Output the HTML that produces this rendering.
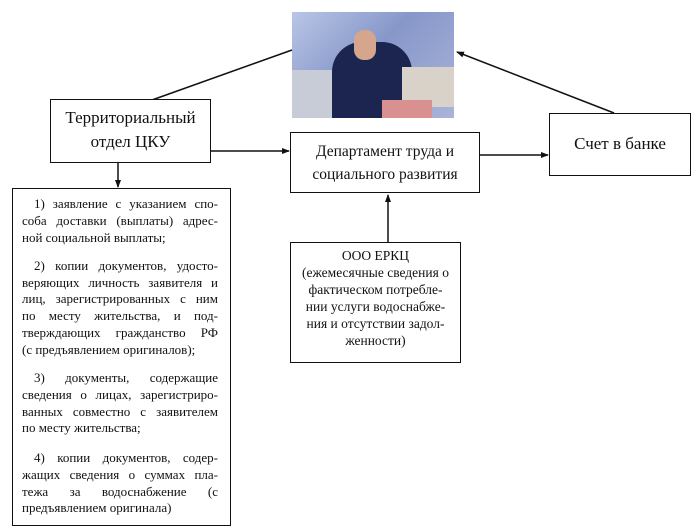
<!DOCTYPE html>
<html><head><meta charset="utf-8"><style>
body{margin:0;width:700px;height:529px;background:#fff;position:relative;overflow:hidden;font-family:"Liberation Serif",serif;color:#111}
.b{position:absolute;border:1.5px solid #111;box-sizing:border-box;background:#fff}
.c{text-align:center}
.l{position:absolute;left:22px;width:196px;font-size:13px;line-height:17px;white-space:nowrap}
.j{text-align:justify;text-align-last:justify}
</style></head><body>
<div style="position:absolute;left:292px;top:12px;width:162px;height:106px;background:linear-gradient(135deg,#b9c6e6,#8797c9 45%,#a9b4d8);overflow:hidden">
<div style="position:absolute;left:40px;top:30px;width:80px;height:76px;background:#1c2450;border-radius:30px 30px 0 0"></div>
<div style="position:absolute;left:62px;top:18px;width:22px;height:30px;background:#d6a58e;border-radius:10px"></div>
<div style="position:absolute;left:0;top:58px;width:40px;height:48px;background:#c8ccd6"></div>
<div style="position:absolute;left:110px;top:55px;width:52px;height:40px;background:#d8d2c8"></div>
<div style="position:absolute;left:90px;top:88px;width:50px;height:18px;background:#d89090"></div>
</div>
<svg width="700" height="529" style="position:absolute;left:0;top:0">
<defs><marker id="a" markerWidth="8" markerHeight="8" refX="7" refY="4" orient="auto" markerUnits="userSpaceOnUse"><path d="M0,1 L8,4 L0,7z" fill="#111"/></marker></defs>
<g stroke="#111" stroke-width="1.5" fill="none">
<line x1="152" y1="100" x2="292" y2="50"/>
<line x1="210" y1="151" x2="289" y2="151" marker-end="url(#a)"/>
<line x1="118" y1="163" x2="118" y2="187" marker-end="url(#a)"/>
<line x1="480" y1="155" x2="548" y2="155" marker-end="url(#a)"/>
<line x1="614" y1="113" x2="457" y2="52" marker-end="url(#a)"/>
<line x1="388" y1="242" x2="388" y2="195" marker-end="url(#a)"/>
</g></svg>
<div class="b c" style="left:50px;top:99px;width:161px;height:64px;font-size:17px;line-height:24px;padding-top:6px">Территориальный<br>отдел ЦКУ</div>
<div class="b c" style="left:290px;top:132px;width:190px;height:61px;font-size:15.5px;line-height:23px;padding-top:7px">Департамент труда и<br>социального развития</div>
<div class="b c" style="left:549px;top:113px;width:142px;height:63px;font-size:17px;line-height:60px">Счет в банке</div>
<div class="b c" style="left:290px;top:242px;width:171px;height:121px;font-size:13.5px;line-height:17px;padding-top:4px">ООО ЕРКЦ<br>(ежемесячные сведения о<br>фактическом потребле-<br>нии услуги водоснабже-<br>ния и отсутствии задол-<br>женности)</div>
<div class="b" style="left:12px;top:188px;width:219px;height:338px"></div>
<div class="l j" style="top:195px;padding-left:12px;width:184px">1) заявление с указанием спо-</div>
<div class="l j" style="top:212px">соба доставки (выплаты) адрес-</div>
<div class="l" style="top:229px">ной социальной выплаты;</div>
<div class="l j" style="top:257px;padding-left:12px;width:184px">2) копии документов, удосто-</div>
<div class="l j" style="top:274px">веряющих личность заявителя и</div>
<div class="l j" style="top:290px">лиц, зарегистрированных с ним</div>
<div class="l j" style="top:307px">по месту жительства, и под-</div>
<div class="l j" style="top:324px">тверждающих гражданство РФ</div>
<div class="l" style="top:341px">(с предъявлением оригиналов);</div>
<div class="l j" style="top:369px;padding-left:12px;width:184px">3) документы, содержащие</div>
<div class="l j" style="top:386px">сведения о лицах, зарегистриро-</div>
<div class="l j" style="top:403px">ванных совместно с заявителем</div>
<div class="l" style="top:419px">по месту жительства;</div>
<div class="l j" style="top:449px;padding-left:12px;width:184px">4) копии документов, содер-</div>
<div class="l j" style="top:466px">жащих сведения о суммах пла-</div>
<div class="l j" style="top:483px">тежа за водоснабжение (с</div>
<div class="l" style="top:499px">предъявлением оригинала)</div>
</body></html>
